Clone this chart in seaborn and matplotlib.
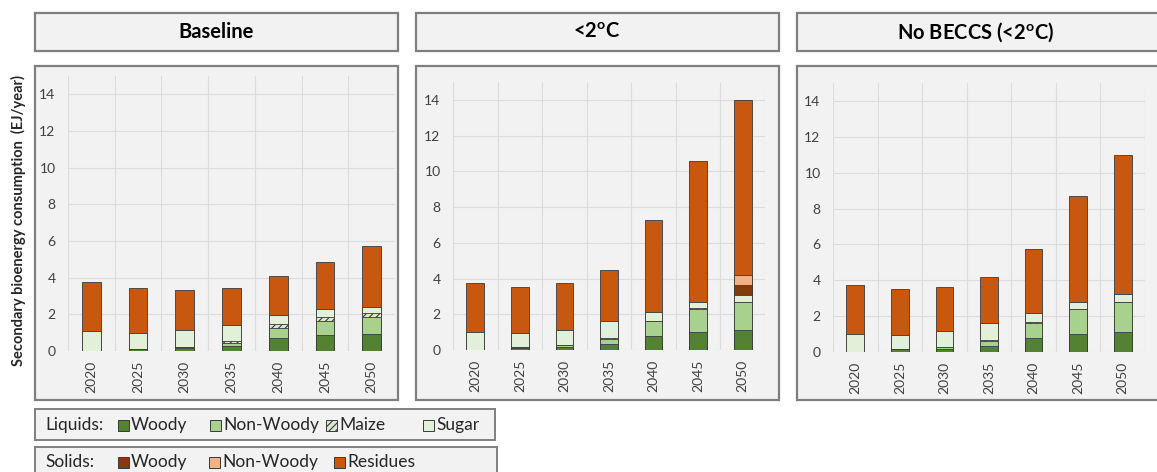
import matplotlib
matplotlib.use("Agg")
import matplotlib.pyplot as plt
from matplotlib.patches import Rectangle
import numpy as np
import pandas as pd
import seaborn as sns

# ---------------- data (EJ/year) ----------------
years = ["2020", "2025", "2030", "2035", "2040", "2045", "2050"]
scenarios = ["Baseline", r"<2$^{\mathbf{o}}$C", r"No BECCS (<2$^{\mathbf{o}}$C)"]

# Baseline
base_liq_woody    = [0.00, 0.10, 0.15, 0.28, 0.73, 0.85, 0.95]
base_liq_nonwoody = [0.00, 0.00, 0.05, 0.17, 0.54, 0.80, 0.92]
base_liq_maize    = [0.00, 0.00, 0.00, 0.07, 0.18, 0.19, 0.18]
base_liq_sugar    = [1.07, 0.90, 0.93, 0.88, 0.51, 0.47, 0.35]
base_sol_woody    = [0.00, 0.00, 0.00, 0.00, 0.00, 0.00, 0.00]
base_sol_nonwoody = [0.00, 0.00, 0.00, 0.00, 0.00, 0.00, 0.00]
base_sol_residues = [2.69, 2.45, 2.18, 2.05, 2.15, 2.55, 3.35]

# <2°C
c2_liq_woody    = [0.00, 0.12, 0.15, 0.34, 0.78, 1.03, 1.12]
c2_liq_nonwoody = [0.00, 0.03, 0.13, 0.28, 0.82, 1.25, 1.55]
c2_liq_maize    = [0.00, 0.00, 0.00, 0.04, 0.05, 0.05, 0.04]
c2_liq_sugar    = [0.99, 0.78, 0.84, 0.98, 0.46, 0.38, 0.37]
c2_sol_woody    = [0.00, 0.00, 0.00, 0.00, 0.00, 0.00, 0.56]
c2_sol_nonwoody = [0.00, 0.00, 0.00, 0.00, 0.00, 0.00, 0.56]
c2_sol_residues = [2.74, 2.58, 2.61, 2.84, 5.17, 7.87, 9.80]

# No BECCS (<2°C)
nb_liq_woody    = [0.00, 0.19, 0.19, 0.32, 0.78, 1.02, 1.12]
nb_liq_nonwoody = [0.00, 0.00, 0.09, 0.30, 0.84, 1.36, 1.67]
nb_liq_maize    = [0.00, 0.00, 0.00, 0.03, 0.05, 0.00, 0.00]
nb_liq_sugar    = [1.02, 0.78, 0.87, 0.99, 0.52, 0.41, 0.43]
nb_sol_woody    = [0.00, 0.00, 0.00, 0.00, 0.00, 0.00, 0.00]
nb_sol_nonwoody = [0.00, 0.00, 0.00, 0.00, 0.00, 0.00, 0.00]
nb_sol_residues = [2.74, 2.56, 2.48, 2.54, 3.54, 5.91, 7.78]

components = ["Liquids Woody", "Liquids Non-Woody", "Maize", "Sugar",
              "Solids Woody", "Solids Non-Woody", "Residues"]
scenario_data = [
    [base_liq_woody, base_liq_nonwoody, base_liq_maize, base_liq_sugar,
     base_sol_woody, base_sol_nonwoody, base_sol_residues],
    [c2_liq_woody, c2_liq_nonwoody, c2_liq_maize, c2_liq_sugar,
     c2_sol_woody, c2_sol_nonwoody, c2_sol_residues],
    [nb_liq_woody, nb_liq_nonwoody, nb_liq_maize, nb_liq_sugar,
     nb_sol_woody, nb_sol_nonwoody, nb_sol_residues],
]

# ---------------- style ----------------
colors = {
    "Liquids Woody": "#548235",
    "Liquids Non-Woody": "#A9D18E",
    "Maize": "#DDE8D3",
    "Sugar": "#E2F0D9",
    "Solids Woody": "#843C0C",
    "Solids Non-Woody": "#F4B183",
    "Residues": "#C8580F",
}
hatches = {"Maize": "/////"}
EDGE = "#3A3A3A"
BOX_FILL = "#F2F2F2"
BOX_EDGE = "#7F7F7F"
GRID = "#DCDCDC"
TICK = "#404040"

sns.set_style("white")
plt.rcParams["font.family"] = ["Lato", "DejaVu Sans"]
plt.rcParams["mathtext.fontset"] = "custom"
plt.rcParams["mathtext.rm"] = "Lato"
plt.rcParams["mathtext.bf"] = "Lato:bold"
plt.rcParams["hatch.linewidth"] = 0.8

W, H = 1157, 472
fig = plt.figure(figsize=(W / 100, H / 100), dpi=100)
fig.patch.set_facecolor("white")


def fx(px):
    return px / W


def fy(py):
    return 1 - py / H


def box(x0, x1, y0, y1, lw=1.6):
    fig.patches.append(Rectangle((fx(x0), fy(y1)), fx(x1) - fx(x0), fy(y0) - fy(y1),
                                 transform=fig.transFigure, facecolor=BOX_FILL,
                                 edgecolor=BOX_EDGE, linewidth=lw, zorder=-5))


panel_boxes = [(35, 398), (416, 779), (797, 1170)]
title_centers = [216, 597, 976]
axes_px = [(68, 395, 76, 351), (453, 765, 82, 350), (833, 1145, 83, 352)]

for i, (title, comps) in enumerate(zip(scenarios, scenario_data)):
    bx0, bx1 = panel_boxes[i]
    box(bx0, bx1, 13, 51)
    box(bx0, bx1, 66, 400)
    fig.text(fx(title_centers[i]), fy(32), title, ha="center", va="center",
             fontsize=14.5, fontweight="bold", color="black")

    ax0, ax1, ay0, ay1 = axes_px[i]
    ax = fig.add_axes([fx(ax0), fy(ay1), fx(ax1) - fx(ax0), fy(ay0) - fy(ay1)])
    ax.set_facecolor("none")

    df = pd.DataFrame({"year": years})
    cum = np.zeros(len(years))
    for name, vals in zip(components, comps):
        cum = cum + np.asarray(vals)
        df[name] = cum
    # draw cumulative layers from the top of the stack downwards
    for name in reversed(components):
        sns.barplot(data=df, x="year", y=name, color=colors[name], saturation=1,
                    width=0.4, edgecolor=EDGE, linewidth=0.6, errorbar=None,
                    hatch=hatches.get(name), ax=ax, zorder=3)

    ax.set_xlim(-0.5, len(years) - 0.5)
    ax.set_ylim(0, 15)
    ax.set_yticks(np.arange(0, 15, 2))
    ax.set_xticks(np.arange(len(years) + 1) - 0.5, minor=True)
    ax.set_xlabel("")
    ax.set_ylabel("")
    for s in ax.spines.values():
        s.set_visible(False)
    ax.grid(axis="y", which="major", color=GRID, linewidth=0.8, zorder=0)
    ax.grid(axis="x", which="minor", color=GRID, linewidth=0.8, zorder=0)
    ax.grid(axis="x", which="major", visible=False)
    ax.tick_params(axis="both", which="both", length=0, colors=TICK, labelsize=10)
    ax.tick_params(axis="y", pad=9)
    ax.tick_params(axis="x", pad=7, labelrotation=90)
    ax.set_axisbelow(True)

fig.text(fx(18), fy(221), "Secondary bioenergy consumption  (EJ/year)", rotation=90,
         ha="center", va="center", fontsize=10.5, fontweight="bold", color="#262626")

# ---------------- legend rows ----------------
legend_rows = [
    ("Liquids:", 409, 440, 495, 425,
     [("Woody", "Liquids Woody", 118), ("Non-Woody", "Liquids Non-Woody", 210),
      ("Maize", "Maize", 326), ("Sugar", "Sugar", 423)]),
    ("Solids:", 447, 485, 497, 462,
     [("Woody", "Solids Woody", 118), ("Non-Woody", "Solids Non-Woody", 209),
      ("Residues", "Residues", 334)]),
]
for head, y0, y1, x1, yc, items in legend_rows:
    box(35, x1, y0, y1, lw=1.4)
    fig.text(fx(45), fy(yc), head, ha="left", va="center", fontsize=12.5, color="#262626")
    for label, key, sx in items:
        sq = 11
        fig.patches.append(Rectangle((fx(sx), fy(yc + sq / 2)), sq / W, sq / H,
                                     transform=fig.transFigure, facecolor=colors[key],
                                     edgecolor=EDGE, linewidth=0.7,
                                     hatch=hatches.get(key), zorder=2))
        fig.text(fx(sx + 13), fy(yc), label, ha="left", va="center", fontsize=12.5,
                 color="#262626")

fig.savefig("out.png", dpi=100, facecolor="white")
